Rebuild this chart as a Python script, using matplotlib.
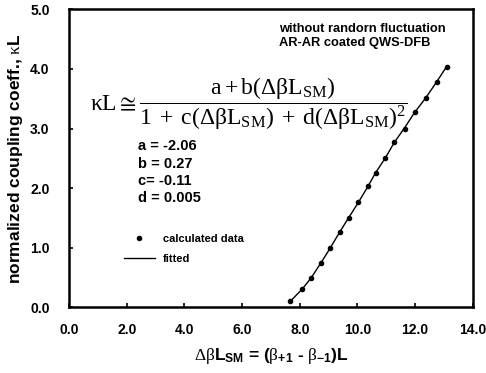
import matplotlib
matplotlib.use('Agg')
import matplotlib.pyplot as plt

# calculated data
dbl = [7.67, 8.09, 8.40, 8.74, 9.06, 9.38, 9.69, 10.03, 10.35, 10.63,
       10.97, 11.28, 11.63, 11.98, 12.36, 12.74, 13.09]
kl = [0.10, 0.31, 0.49, 0.75, 1.00, 1.27, 1.50, 1.76, 2.03, 2.26,
      2.51, 2.77, 3.00, 3.27, 3.51, 3.78, 4.04]

# fitted curve (traced)
fit_x = [7.67, 8.09, 8.40, 8.74, 9.06, 9.38, 9.69, 10.03, 10.35, 10.63,
         10.97, 11.28, 11.63, 11.98, 12.36, 12.74, 13.09]
fit_y = [0.10, 0.31, 0.50, 0.75, 1.00, 1.26, 1.50, 1.76, 2.02, 2.26,
         2.51, 2.77, 3.01, 3.27, 3.51, 3.78, 4.04]

xticks = [0, 2, 4, 6, 8, 10, 12, 14]
yticks = [0, 1, 2, 3, 4, 5]
params = ['a = -2.06', 'b = 0.27', 'c= -0.11', 'd = 0.005']

plt.rcParams['font.family'] = ['Liberation Sans', 'DejaVu Sans']
plt.rcParams['mathtext.fontset'] = 'custom'
plt.rcParams['mathtext.rm'] = 'Liberation Serif'
plt.rcParams['mathtext.it'] = 'Liberation Serif:italic'
plt.rcParams['mathtext.bf'] = 'Liberation Sans:bold'

fig = plt.figure(figsize=(4.86, 3.73), dpi=100)
ax = fig.add_axes([0.142, 0.176, 0.831, 0.799])

ax.plot(dbl, kl, 'o', color='black', markersize=3, label='calculated data')
ax.plot(fit_x, fit_y, '-', color='black', linewidth=1, label='fitted')

ax.set_xlim(0, 14)
ax.set_ylim(0, 5)
ax.set_xticks(xticks)
ax.set_xticklabels(['%.1f' % t for t in xticks], fontweight='bold', fontsize=10)
ax.set_yticks(yticks)
ax.set_yticklabels(['%.1f' % t for t in yticks], fontweight='bold', fontsize=10)
ax.tick_params(axis='x', direction='in', length=3, width=1.2, pad=11)
ax.tick_params(axis='y', direction='in', length=3, width=1.2, pad=14)
for s in ax.spines.values():
    s.set_linewidth(1.8)

ax.set_ylabel(r'normalized coupling coeff., $\mathrm{\kappa}$L', fontweight='bold',
              fontsize=12.5, labelpad=4)
ax.set_xlabel(r'$\mathrm{\Delta\beta}$L$_\mathbf{SM}$ = ($\mathrm{\beta}_{\mathbf{+1}}$ - $\mathrm{\beta}_{\mathbf{-1}}$)L',
              fontweight='bold', fontsize=12.5, labelpad=7)

ax.text(0.52, 0.955, 'without randorn fluctuation\nAR-AR coated QWS-DFB',
        transform=ax.transAxes, fontweight='bold', fontsize=9.3, va='top',
        linespacing=1.25)
ax.text(0.052, 0.684,
        r'$\mathrm{\kappa L \cong \dfrac{a + b(\Delta\beta L_{SM})}{1 \;+\; c(\Delta\beta L_{SM}) \;+\; d(\Delta\beta L_{SM})^2}}$',
        transform=ax.transAxes, fontsize=17, va='center')
for i, p in enumerate(params):
    ax.text(0.172, 0.54 - i * 0.058, p, transform=ax.transAxes,
            fontweight='bold', fontsize=10.5, va='center')

leg = ax.legend(loc='upper left', bbox_to_anchor=(0.136, 0.245), frameon=False,
                prop={'weight': 'bold', 'size': 8}, handlelength=2.8,
                handletextpad=0.7, labelspacing=0.85, borderaxespad=0,
                borderpad=0)

fig.savefig('out.png', dpi=100)
